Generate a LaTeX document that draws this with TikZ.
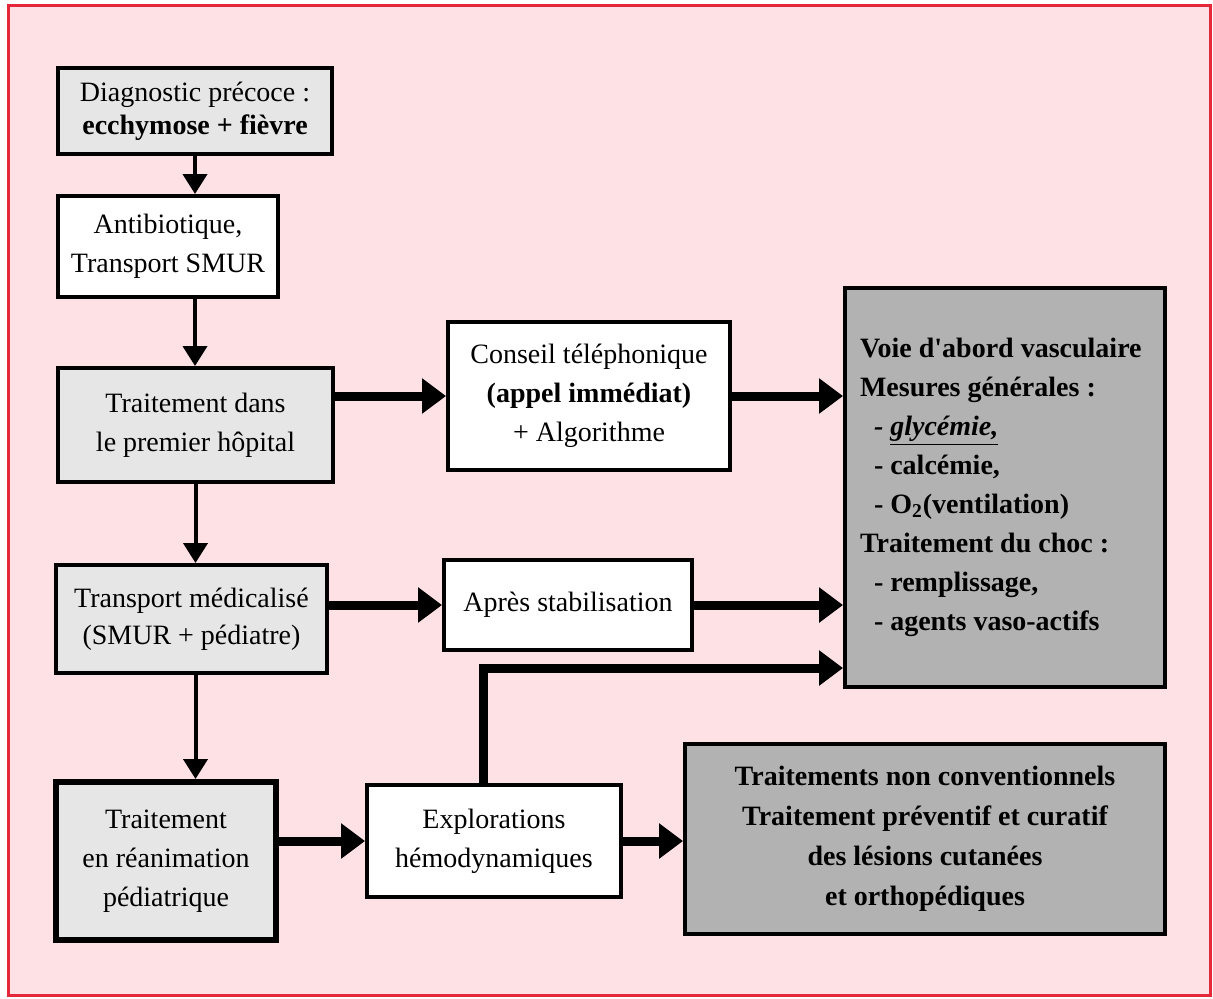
\documentclass[tikz,border=0pt]{standalone}
\usepackage{fontspec}
\setmainfont{Liberation Serif}
\usetikzlibrary{arrows.meta}
\definecolor{rose}{RGB}{253,225,229}
\definecolor{bordrouge}{RGB}{228,40,58}
\definecolor{grisclair}{RGB}{230,230,230}
\definecolor{grisfonce}{RGB}{178,178,178}
\begin{document}
\begin{tikzpicture}[x=0.5pt,y=-0.5pt,
	boite/.style={draw,line width=2pt,align=center,font=\fontsize{14}{19.5}\selectfont},
	lbox/.style={boite,fill=grisclair},
	wbox/.style={boite,fill=white},
	dbox/.style={boite,fill=grisfonce,font=\fontsize{14}{19.5}\selectfont\bfseries},
	fleche/.style={line width=2pt,-{Triangle[length=10pt,width=12pt]}},
	grosfleche/.style={line width=4.5pt,-{Triangle[length=12pt,width=17pt]}}]
	\useasboundingbox (0,0) rectangle (1213,998);
	\draw[line width=1.5pt,bordrouge,fill=rose] (8,5) rectangle (1210,995);
	\node[lbox,minimum width=137pt,minimum height=43pt,font=\fontsize{14}{16.5}\selectfont] (diag) at (195,111) {Diagnostic précoce :\\\textbf{ecchymose + fièvre}};
	\node[wbox,minimum width=110pt,minimum height=50.5pt] (anti) at (168,246.5) {Antibiotique,\\Transport SMUR};
	\node[lbox,minimum width=137.5pt,minimum height=57pt] (hop) at (195.5,425) {Traitement dans\\le premier hôpital};
	\node[lbox,minimum width=135.5pt,minimum height=54pt,font=\fontsize{14}{18.5}\selectfont] (trans) at (191.5,619) {Transport médicalisé\\(SMUR + pédiatre)};
	\node[lbox,line width=3pt,minimum width=110pt,minimum height=79pt] (rea) at (166,861) {Traitement\\en réanimation\\pédiatrique};
	\node[wbox,minimum width=141pt,minimum height=74pt] (conseil) at (589,396) {Conseil téléphonique\\\textbf{(appel immédiat)}\\+ Algorithme};
	\node[wbox,minimum width=124pt,minimum height=45pt] (apres) at (568,605) {Après stabilisation};
	\node[wbox,minimum width=127pt,minimum height=56pt] (explo) at (494,841) {Explorations\\hémodynamiques};
	\node[dbox,align=flush left,text width=145pt,minimum width=160pt,minimum height=199.5pt] (voie) at (1005,487.5) {Voie d\textquotesingle abord vasculaire\\Mesures générales :\\\hspace*{7pt}\textit{- \underline{glycémie,}}\\\hspace*{7pt}- calcémie,\\\hspace*{7pt}- O\textsubscript{2}(ventilation)\\Traitement du choc :\\\hspace*{7pt}- remplissage,\\\hspace*{7pt}- agents vaso-actifs};
	\node[dbox,minimum width=240pt,minimum height=95pt,font=\fontsize{14}{20}\selectfont\bfseries] (nonconv) at (925,839) {Traitements non conventionnels\\Traitement préventif et curatif\\des lésions cutanées\\et orthopédiques};
	\coordinate (coude) at (483,668);
	\draw[fleche] (diag.south) -- (diag.south |- anti.north);
	\draw[fleche] (diag.south |- anti.south) -- (diag.south |- hop.north);
	\draw[fleche] (hop.south) -- (hop.south |- trans.north);
	\draw[fleche] (hop.south |- trans.south) -- (hop.south |- rea.north);
	\draw[grosfleche] (conseil.west -| hop.east) -- (conseil.west);
	\draw[grosfleche] (conseil.east) -- (conseil.east -| voie.west);
	\draw[grosfleche] (apres.west -| trans.east) -- (apres.west);
	\draw[grosfleche] (apres.east) -- (apres.east -| voie.west);
	\draw[grosfleche] (explo.west -| rea.east) -- (explo.west);
	\draw[grosfleche] (explo.east) -- (explo.east -| nonconv.west);
	\draw[grosfleche] (explo.north -| coude) -- (coude) -- (coude -| voie.west);
\end{tikzpicture}
\end{document}
